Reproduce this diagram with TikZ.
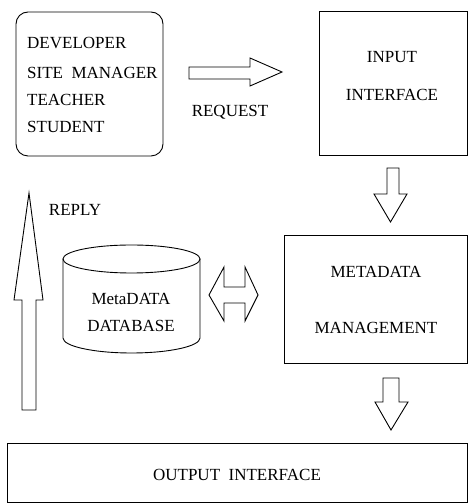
\documentclass[tikz,border=0pt]{standalone}
\usepackage{fontspec}
\setmainfont{Liberation Serif}
\begin{document}
\begin{tikzpicture}[x=1pt,y=1pt,
  lbl/.style={inner sep=0pt, font=\fontsize{17}{20}\selectfont},
  boxline/.style={draw=black, line width=0.9pt},
  blockarrow/.style={draw=black, line width=0.9pt, line join=miter, fill=white}]
\useasboundingbox (0,0) rectangle (468,503);
% users box
\node[boxline, rounded corners=12pt, minimum width=147pt, minimum height=144pt, inner sep=0pt] (users) at (89.5,419) {};
\node[lbl, anchor=west] (dev) at (27,460) {DEVELOPER};
\node[lbl, anchor=west] (site) at (27,430) {SITE\ \ MANAGER};
\node[lbl, anchor=west] (teach) at (27,403) {TEACHER};
\node[lbl, anchor=west] (stud) at (27,376) {STUDENT};
% request arrow
\draw[blockarrow] (189,436) -- (250,436) -- (250,445) -- (282,431) -- (250,417) -- (250,424) -- (189,424) -- cycle;
\node[lbl] (req) at (230,391) {REQUEST};
% input interface
\node[boxline, minimum width=148pt, minimum height=144pt, inner sep=0pt] (input) at (393,420) {};
\node[lbl] (in1) at (392,446) {INPUT};
\node[lbl] (in2) at (392,408) {INTERFACE};
% down arrow 1
\draw[blockarrow] (387,335) -- (399,335) -- (399,309) -- (407,309) -- (390.5,281) -- (374,309) -- (387,309) -- cycle;
% metadata management
\node[boxline, minimum width=183pt, minimum height=128pt, inner sep=0pt] (meta) at (375.5,204) {};
\node[lbl] (m1) at (376,231) {METADATA};
\node[lbl] (m2) at (376,175) {MANAGEMENT};
% down arrow 2
\draw[blockarrow] (383,125) -- (399,125) -- (399,101) -- (408,101) -- (391,73) -- (375,101) -- (383,101) -- cycle;
% output interface
\node[boxline, minimum width=460pt, minimum height=59pt, inner sep=0pt] (output) at (237,30.5) {};
\node[lbl] (out) at (237,28) {OUTPUT\ \ INTERFACE};
% reply arrow
\draw[blockarrow] (22,93) -- (22,203) -- (14,203) -- (29,310) -- (43,203) -- (36,203) -- (36,93) -- cycle;
\node[lbl] (reply) at (75,293) {REPLY};
% database cylinder
\draw[boxline] (63,244) -- (63,165) arc[start angle=180, end angle=360, x radius=68.5, y radius=15] -- (200,244);
\draw[boxline] (131.5,244) ellipse[x radius=68.5, y radius=14];
\node[lbl] (db1) at (131,204) {MetaDATA};
\node[lbl] (db2) at (131,177) {DATABASE};
% double arrow
\draw[blockarrow] (209,208) -- (224,236) -- (224,216) -- (245,216) -- (245,236) -- (258,208) -- (245,182) -- (245,200) -- (224,200) -- (224,182) -- cycle;
\end{tikzpicture}
\end{document}
